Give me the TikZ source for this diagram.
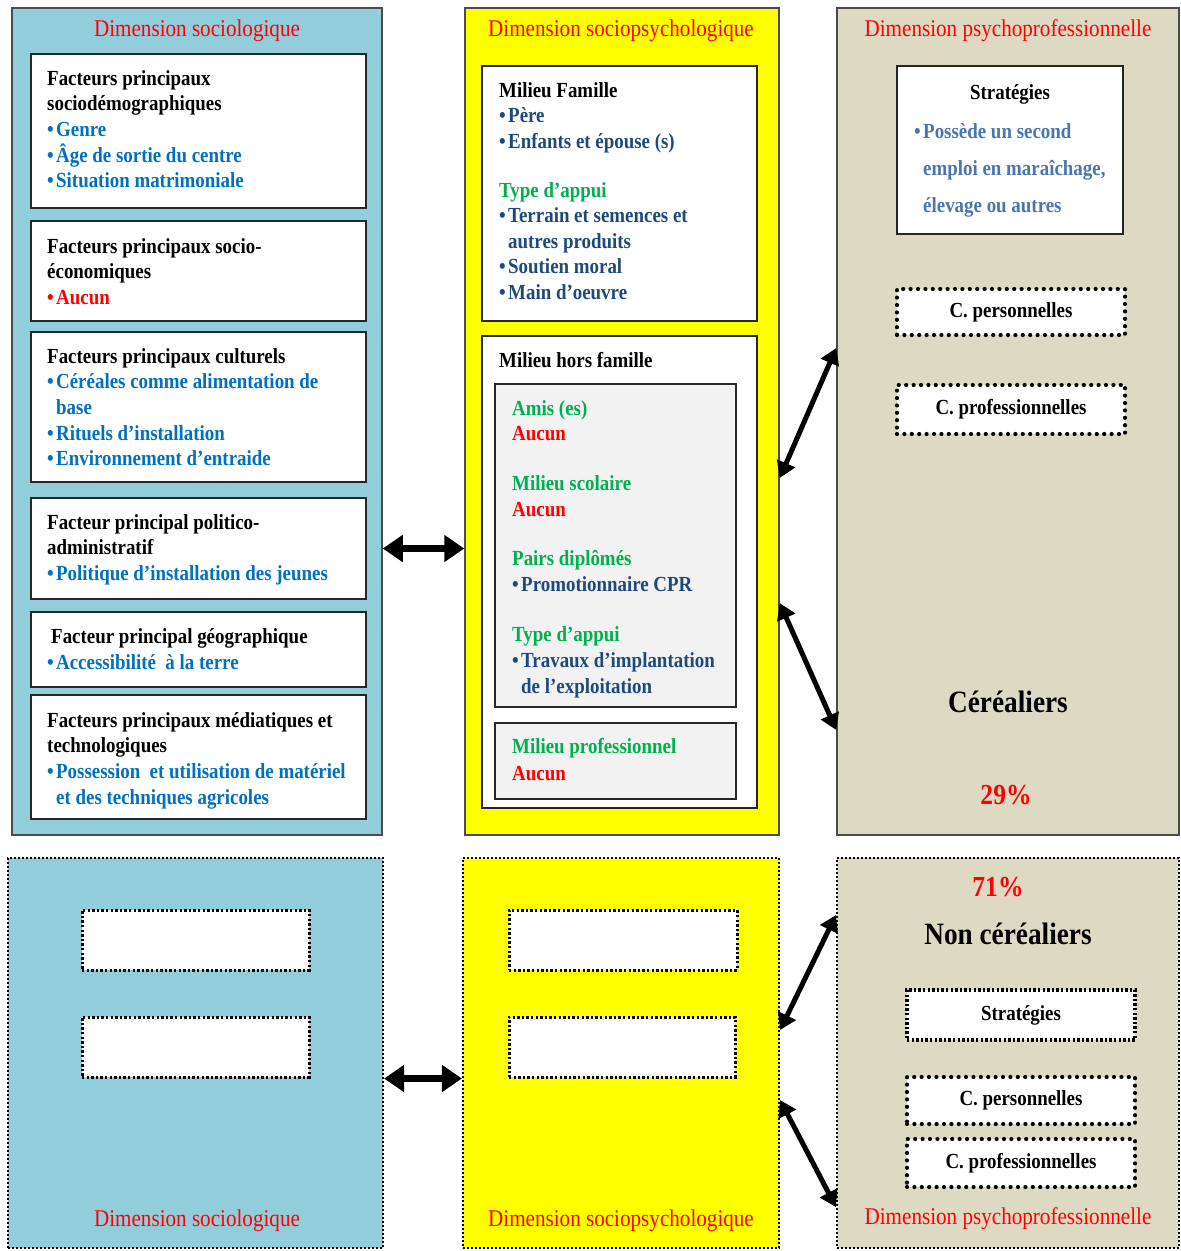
\documentclass[tikz,border=0pt]{standalone}
\usepackage{fontspec}
\setmainfont{Liberation Serif}[FakeStretch=0.88]
\usetikzlibrary{arrows.meta,fit}
\definecolor{cblue}{HTML}{92CDDC}
\definecolor{cyel}{HTML}{FFFF00}
\definecolor{ctan}{HTML}{DDD9C3}
\definecolor{cgrey}{HTML}{F2F2F2}
\definecolor{tblue}{HTML}{0070C0}
\definecolor{tdark}{HTML}{1F497D}
\definecolor{tsteel}{HTML}{4A76B0}
\definecolor{tgreen}{HTML}{00B050}
\definecolor{tred}{HTML}{FF0000}
\newcommand{\bl}{\makebox[9pt][l]{\textbullet}}
\newcommand{\ind}{\hspace*{9pt}}
\newcommand{\fs}{\rule{0pt}{16pt}}
\begin{document}
\begin{tikzpicture}[x=1pt,y=-1pt,
  bigbox/.style={draw=black!70, line width=1.5pt, inner sep=0pt},
  outdot/.style={draw=black, line width=2.2pt, dash pattern=on 2pt off 2pt, inner sep=0pt},
  inbox/.style={draw=black!85, line width=1.8pt, fill=white, inner sep=0pt},
  greybox/.style={draw=black!85, line width=1.8pt, fill=cgrey, inner sep=0pt},
  dotbox/.style={draw=black, line width=4.2pt, line cap=round, dash pattern=on 0pt off 7.4pt, fill=white, inner sep=0pt},
  finedot/.style={draw=black, line width=3pt, dash pattern=on 2.4pt off 2.2pt, fill=white, inner sep=0pt},
  txt/.style={anchor=north west, inner sep=0pt, align=left, font=\bfseries\fontsize{21.5}{25.6}\selectfont},
  ttl/.style={inner sep=0pt, text=tred, font=\fontsize{24}{26}\selectfont},
  lab/.style={inner sep=0pt, font=\bfseries\fontsize{21.5}{24}\selectfont},
  big/.style={inner sep=0pt, font=\bfseries\fontsize{31}{34}\selectfont},
  pct/.style={inner sep=0pt, text=tred, font=\bfseries\fontsize{29}{32}\selectfont},
  hdbl/.style={{Triangle[length=20pt,width=26pt]}-{Triangle[length=20pt,width=26pt]}, line width=7pt},
  ddbl/.style={{Triangle[length=16pt,width=19pt]}-{Triangle[length=16pt,width=19pt]}, line width=5pt}]
\useasboundingbox (0,0) rectangle (1181,1251);

% ===== TOP ROW =====
\node[bigbox, fill=cblue, fit={(12,8)(382,835)}] (Lt) {};
\node[bigbox, fill=cyel, fit={(465,8)(779,835)}] (Mt) {};
\node[bigbox, fill=ctan, fit={(837,8)(1179,835)}] (Rt) {};

\node[ttl] (LtT) at (197,31) {Dimension sociologique};
\node[ttl] (MtT) at (621,31) {Dimension sociopsychologique};
\node[ttl] (RtT) at (1008,31) {Dimension psychoprofessionnelle};

% left inner boxes
\node[inbox, fit={(31,54)(366,208)}] (s1) {};
\node[inbox, fit={(31,221)(366,321)}] (s2) {};
\node[inbox, fit={(31,332)(366,482)}] (s3) {};
\node[inbox, fit={(31,498)(366,599)}] (s4) {};
\node[inbox, fit={(31,612)(366,687)}] (s5) {};
\node[inbox, fit={(31,695)(366,819)}] (s6) {};

\node[txt] (s1t) at (47,69) {\fs Facteurs principaux\\ sociodémographiques\\
  \color{tblue}\bl Genre\\ \color{tblue}\bl Âge de sortie du centre\\ \color{tblue}\bl Situation matrimoniale};
\node[txt] (s2t) at (47,237) {\fs Facteurs principaux socio-\\ économiques\\ \color{tred}\bl Aucun};
\node[txt] (s3t) at (47,347) {\fs Facteurs principaux culturels\\
  \color{tblue}\bl Céréales comme alimentation de\\ \color{tblue}\ind base\\
  \color{tblue}\bl Rituels d’installation\\ \color{tblue}\bl Environnement d’entraide};
\node[txt] (s4t) at (47,513) {\fs Facteur principal politico-\\ administratif\\
  \color{tblue}\bl Politique d’installation des jeunes};
\node[txt] (s5t) at (51,627) {\fs Facteur principal géographique};
\node[txt, text=tblue] (s5b) at (47,653) {\fs\bl Accessibilité\ \ à la terre};
\node[txt] (s6t) at (47,711) {\fs Facteurs principaux médiatiques et\\ technologiques\\
  \color{tblue}\bl Possession\ \ et utilisation de matériel\\ \color{tblue}\ind et des techniques agricoles};

% middle inner boxes
\node[inbox, fit={(482,66)(757,321)}] (m1) {};
\node[inbox, fit={(482,336)(757,808)}] (m2) {};
\node[greybox, fit={(495,384)(736,707)}] (g1) {};
\node[greybox, fit={(495,723)(736,799)}] (g2) {};

\node[txt] (m1t) at (499,81) {\fs Milieu Famille\\
  \color{tdark}\bl Père\\ \color{tdark}\bl Enfants et épouse (s)\\[23pt]
  \color{tgreen}Type d’appui\\
  \color{tdark}\bl Terrain et semences et\\ \color{tdark}\ind autres produits\\
  \color{tdark}\bl Soutien moral\\ \color{tdark}\bl Main d’oeuvre};
\node[txt] (m2t) at (499,351) {\fs Milieu hors famille};
\node[txt] (g1t) at (512,399) {\fs\color{tgreen}Amis (es)\\ \color{tred}Aucun\\[24pt]
  \color{tgreen}Milieu scolaire\\ \color{tred}Aucun\\[24pt]
  \color{tgreen}Pairs diplômés\\ \color{tdark}\bl Promotionnaire CPR\\[25pt]
  \color{tgreen}Type d’appui\\ \color{tdark}\bl Travaux d’implantation\\ \color{tdark}\ind de l’exploitation};
\node[txt] (g2t) at (512,737) {\fs\color{tgreen}Milieu professionnel\\[2pt] \color{tred}Aucun};

% right column
\node[inbox, fit={(897,66)(1123,234)}] (r1) {};
\node[lab, anchor=base] (r1t) at (1010,99) {Stratégies};
\node[txt, font=\bfseries\fontsize{21.5}{37}\selectfont, text=tsteel] (r1b) at (914,122)
  {\fs\bl Possède un second\\ \ind emploi en maraîchage,\\ \ind élevage ou autres};
\node[dotbox, fit={(897,289)(1125,335)}] (r2) {};
\node[lab] (r2t) at (r2.center) {C. personnelles};
\node[dotbox, fit={(897,385)(1125,434)}] (r3) {};
\node[lab] (r3t) at (r3.center) {C. professionnelles};
\node[big] (cer) at (1008,702) {Céréaliers};
\node[pct] (p29) at (1006,795) {29\%};

% top connectors
\draw[hdbl] (Lt.east |- s4.east) -- (Mt.west |- s4.east);
\coordinate (a1) at (Mt.east |- 0,478);
\coordinate (a2) at (Rt.west |- 0,348);
\coordinate (a3) at (Mt.east |- 0,603);
\coordinate (a4) at (Rt.west |- 0,730);
\draw[ddbl] (a1) -- (a2);
\draw[ddbl] (a3) -- (a4);

% ===== BOTTOM ROW =====
\node[outdot, fill=cblue, fit={(8,858)(383,1248)}] (Lb) {};
\node[outdot, fill=cyel, fit={(463,858)(779,1248)}] (Mb) {};
\node[outdot, fill=ctan, fit={(837,858)(1179,1248)}] (Rb) {};

\node[finedot, fit={(82,910)(309,970)}] (lb1) {};
\node[finedot, fit={(82,1017)(309,1077)}] (lb2) {};
\node[finedot, fit={(509,910)(737,970)}] (mb1) {};
\node[finedot, fit={(509,1017)(735,1077)}] (mb2) {};

\node[ttl] (LbT) at (197,1221) {Dimension sociologique};
\node[ttl] (MbT) at (621,1221) {Dimension sociopsychologique};
\node[ttl] (RbT) at (1008,1219) {Dimension psychoprofessionnelle};

\node[pct] (p71) at (998,887) {71\%};
\node[big] (ncer) at (1008,934) {Non céréaliers};
\node[finedot, line width=3.4pt, fit={(907,990)(1135,1040)}] (rb1) {};
\node[lab] (rb1t) at (rb1.center) {Stratégies};
\node[dotbox, fit={(907,1077)(1135,1124)}] (rb2) {};
\node[lab] (rb2t) at (rb2.center) {C. personnelles};
\node[dotbox, fit={(907,1139)(1135,1187)}] (rb3) {};
\node[lab] (rb3t) at (rb3.center) {C. professionnelles};

% bottom connectors
\draw[hdbl] (Lb.east |- lb2.south) -- (Mb.west |- lb2.south);
\coordinate (b1) at (Mb.east |- 0,1030);
\coordinate (b2) at (Rb.west |- 0,915);
\coordinate (b3) at (Mb.east |- 0,1100);
\coordinate (b4) at (Rb.west |- 0,1207);
\draw[ddbl] (b1) -- (b2);
\draw[ddbl] (b3) -- (b4);
\end{tikzpicture}
\end{document}
